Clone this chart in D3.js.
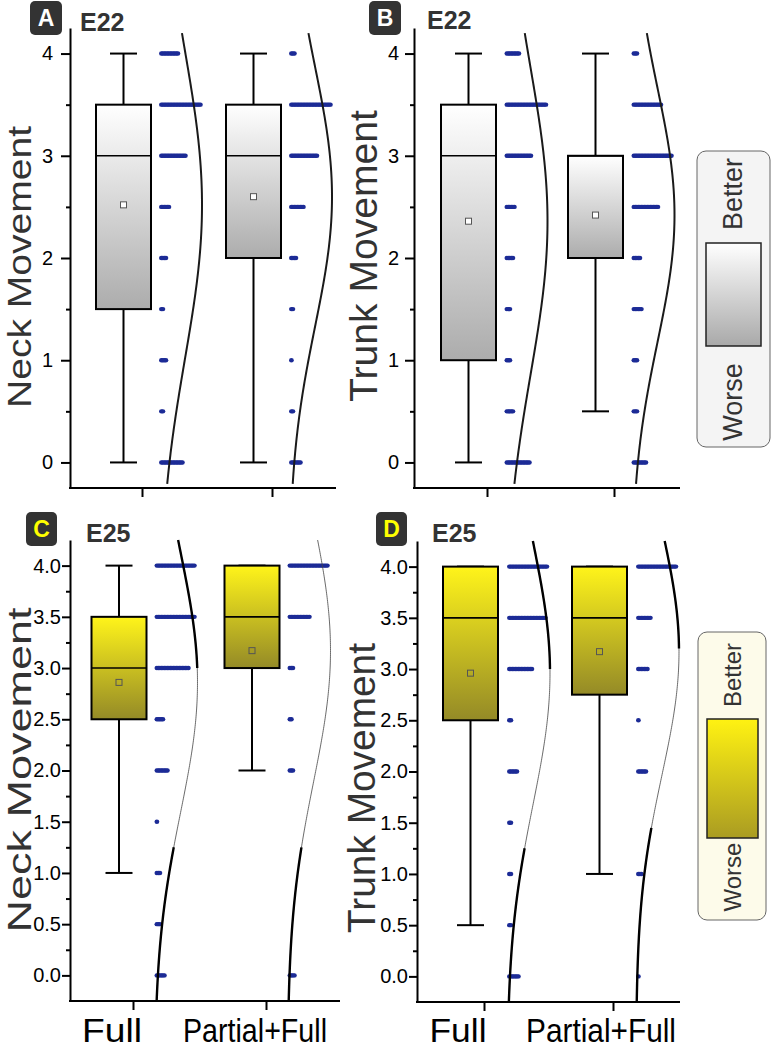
<!DOCTYPE html>
<html>
<head>
<meta charset="utf-8">
<script src="https://cdn.jsdelivr.net/npm/d3@7"></script>
<style>
  body { margin: 0; background: #fff; }
  svg { display: block; font-family: 'Liberation Sans', Arial, sans-serif; }
</style>
</head>
<body>
<script>
// groups on the x axis and the score levels the dots sit on
const groups = ['Full', 'Partial+Full'];
const levels = [0, 0.5, 1, 1.5, 2, 2.5, 3, 3.5, 4];

// box statistics per panel, one entry per group
const statsA = [
  { min: 0, q1: 1.5, med: 3, q3: 3.5, max: 4, mean: 2.52 },
  { min: 0, q1: 2, med: 3, q3: 3.5, max: 4, mean: 2.6 }
];
const statsB = [
  { min: 0, q1: 1, med: 3, q3: 3.5, max: 4, mean: 2.36 },
  { min: 0.5, q1: 2, med: 3, q3: 3, max: 4, mean: 2.42 }
];
const statsC = [
  { min: 1, q1: 2.5, med: 3, q3: 3.5, max: 4, mean: 2.86 },
  { min: 2, q1: 3, med: 3.5, q3: 4, max: 4, mean: 3.17 }
];
const statsD = [
  { min: 0.5, q1: 2.5, med: 3.5, q3: 4, max: 4, mean: 2.96 },
  { min: 1, q1: 2.75, med: 3.5, q3: 4, max: 4, mean: 3.17 }
];

// number of subjects at each level (same order as levels)
const countsA = [[15, 2, 4, 2, 4, 6, 17, 27, 12], [7, 2, 1, 2, 4, 9, 18, 27, 3]];
const countsB = [[16, 5, 3, 3, 5, 6, 17, 27, 9], [9, 3, 3, 6, 5, 17, 26, 19, 3]];
const countsC = [[6, 3, 3, 1, 8, 5, 22, 26, 26], [4, 0, 0, 0, 3, 2, 3, 14, 26]];
const countsD = [[7, 2, 2, 2, 6, 2, 16, 25, 26], [1, 0, 3, 0, 6, 1, 7, 9, 26]];

// normal fit shown beside the dots
const sdA = [1.5, 1.27];
const sdB = [1.5, 1.24];
const sdC = [1.27, 1.28];
const sdD = [1.28, 1.2];

const width = 771;
const height = 1050;
const dotBlue = '#1c2b96';

const svg = d3.select('body')
  .append('svg')
  .attr('width', width)
  .attr('height', height);

const defs = svg.append('defs');
const addGrad = (id, top, bottom) => {
  const g = defs.append('linearGradient')
    .attr('id', id)
    .attr('x1', 0).attr('y1', 0).attr('x2', 0).attr('y2', 1);
  g.append('stop').attr('offset', '0%').attr('stop-color', top);
  g.append('stop').attr('offset', '100%').attr('stop-color', bottom);
};
addGrad('gray', '#ffffff', '#acacac');
addGrad('yellow', '#fff41a', '#948a27');
addGrad('grayLegend', '#ffffff', '#a9a9a9');
addGrad('yellowLegend', '#fff212', '#aa9c22');

// layout of the four panels
const panels = [
  {
    letter: 'A', title: 'E22', yLabel: 'Neck Movement', stats: statsA, counts: countsA, sd: sdA,
    fill: 'gray', letterColor: '#fff',
    x0: 70, x1: 336, y0: 28, y1: 488, t1: 142, t2: 272, boxShift: -18.5, dotShift: 17,
    box: { x: 30, y: 1, w: 32, h: 34 }, titleX: 80, titleY: 31,
    label: { x: 31, cy: 267, size: 34, len: 282 },
    major: [0, 1, 2, 3, 4], minor: [0.5, 1.5, 2.5, 3.5], fmt: d3.format('d'),
    tickLen: 9, tickPad: 8, curveSpan: [-0.21, 4.2], bold: null
  },
  {
    letter: 'B', title: 'E22', yLabel: 'Trunk Movement', stats: statsB, counts: countsB, sd: sdB,
    fill: 'gray', letterColor: '#fff',
    x0: 414, x1: 680, y0: 28, y1: 488, t1: 487, t2: 614, boxShift: -18.5, dotShift: 17.5,
    box: { x: 369, y: 1, w: 32, h: 34 }, titleX: 427, titleY: 29,
    label: { x: 377, cy: 256, size: 39, len: 292 },
    major: [0, 1, 2, 3, 4], minor: [0.5, 1.5, 2.5, 3.5], fmt: d3.format('d'),
    tickLen: 9, tickPad: 6, curveSpan: [-0.21, 4.2], bold: null
  },
  {
    letter: 'C', title: 'E25', yLabel: 'Neck Movement', stats: statsC, counts: countsC, sd: sdC,
    fill: 'yellow', letterColor: '#ffff00',
    x0: 70, x1: 340, y0: 540, y1: 1001, t1: 133, t2: 266, boxShift: -14, dotShift: 21.5,
    box: { x: 26, y: 512, w: 31, h: 34 }, titleX: 86, titleY: 542,
    label: { x: 31, cy: 770, size: 34, len: 325 },
    major: [0, 0.5, 1, 1.5, 2, 2.5, 3, 3.5, 4], minor: [0.25, 0.75, 1.25, 1.75, 2.25, 2.75, 3.25, 3.75],
    fmt: d3.format('.1f'), tickLen: 8, tickPad: 1, curveSpan: [-0.25, 4.25],
    bold: [[[3, 4.25], [-0.25, 1.25]], [[-0.25, 1.25]]],
    xLabels: [{ shift: -21, len: 60 }, { shift: -11, len: 144 }]
  },
  {
    letter: 'D', title: 'E25', yLabel: 'Trunk Movement', stats: statsD, counts: countsD, sd: sdD,
    fill: 'yellow', letterColor: '#ffff00',
    x0: 417, x1: 680, y0: 541, y1: 1002, t1: 484, t2: 613, boxShift: -13.5, dotShift: 23,
    box: { x: 376, y: 512, w: 31, h: 34 }, titleX: 432, titleY: 542,
    label: { x: 375, cy: 788, size: 39, len: 290 },
    major: [0, 0.5, 1, 1.5, 2, 2.5, 3, 3.5, 4], minor: [0.25, 0.75, 1.25, 1.75, 2.25, 2.75, 3.25, 3.75],
    fmt: d3.format('.1f'), tickLen: 8, tickPad: 1, curveSpan: [-0.25, 4.25],
    bold: [[[3, 4.25], [-0.25, 1.25]], [[3.2, 4.25], [-0.25, 1.45]]],
    xLabels: [{ shift: -26, len: 57 }, { shift: -12, len: 150 }]
  }
];

const boxW = 55;
const capW = 27;
const peak = 43;

panels.forEach(p => {
  const g = svg.append('g');

  const y = d3.scaleLinear().domain([-0.25, 4.25]).range([p.y1, p.y0]);
  const x = d3.scalePoint().domain(groups).range([p.t1, p.t2]);

  // y axis, major then minor ticks
  const yAxis = g.append('g')
    .attr('transform', `translate(${p.x0},0)`)
    .call(d3.axisLeft(y).tickValues(p.major).tickFormat(p.fmt)
      .tickSize(p.tickLen).tickSizeOuter(0).tickPadding(p.tickPad));
  yAxis.select('.domain').attr('stroke-width', 2);
  yAxis.selectAll('.tick line').attr('stroke-width', 2);
  yAxis.selectAll('.tick text')
    .attr('font-size', 20)
    .attr('font-family', "'Liberation Sans', Arial, sans-serif")
    .attr('fill', '#000');

  const yMinor = g.append('g')
    .attr('transform', `translate(${p.x0},0)`)
    .call(d3.axisLeft(y).tickValues(p.minor).tickFormat('').tickSize(4).tickSizeOuter(0));
  yMinor.select('.domain').remove();
  yMinor.selectAll('.tick line').attr('stroke-width', 2);

  // x axis line and ticks
  g.append('line')
    .attr('x1', p.x0 - 1).attr('x2', p.x1)
    .attr('y1', p.y1).attr('y2', p.y1)
    .attr('stroke', '#000').attr('stroke-width', 2);
  const xAxis = g.append('g')
    .attr('transform', `translate(0,${p.y1})`)
    .call(d3.axisBottom(x).tickFormat('').tickSize(9).tickSizeOuter(0));
  xAxis.select('.domain').remove();
  xAxis.selectAll('.tick line').attr('stroke-width', 2);

  if (p.xLabels) {
    g.selectAll('.xlab')
      .data(groups)
      .join('text')
      .attr('class', 'xlab')
      .attr('x', (d, i) => x(d) + p.xLabels[i].shift)
      .attr('y', 1042)
      .attr('text-anchor', 'middle')
      .attr('font-size', 33)
      .attr('textLength', (d, i) => p.xLabels[i].len)
      .attr('lengthAdjust', 'spacingAndGlyphs')
      .attr('fill', '#000')
      .text(d => d);
  }

  // y axis title
  g.append('text')
    .attr('transform', `translate(${p.label.x},${p.label.cy}) rotate(-90)`)
    .attr('text-anchor', 'middle')
    .attr('font-size', p.label.size)
    .attr('textLength', p.label.len)
    .attr('lengthAdjust', 'spacingAndGlyphs')
    .attr('fill', '#333')
    .text(p.yLabel);

  // panel letter and title
  g.append('rect')
    .attr('x', p.box.x).attr('y', p.box.y)
    .attr('width', p.box.w).attr('height', p.box.h)
    .attr('rx', 5)
    .attr('fill', '#333');
  g.append('text')
    .attr('x', p.box.x + p.box.w / 2)
    .attr('y', p.box.y + p.box.h / 2 + 8)
    .attr('text-anchor', 'middle')
    .attr('font-size', 23)
    .attr('font-weight', 'bold')
    .attr('fill', p.letterColor)
    .text(p.letter);
  g.append('text')
    .attr('x', p.titleX).attr('y', p.titleY)
    .attr('font-size', 25)
    .attr('font-weight', 'bold')
    .attr('fill', '#333')
    .text(p.title);

  groups.forEach((grp, i) => {
    const s = p.stats[i];
    const cx = x(grp) + p.boxShift;
    const dx = x(grp) + p.dotShift;

    // whiskers
    [[s.max, s.q3], [s.q1, s.min]].forEach(([a, b]) => {
      if (a === b) return;
      g.append('line')
        .attr('x1', cx).attr('x2', cx)
        .attr('y1', y(a)).attr('y2', y(b))
        .attr('stroke', '#000').attr('stroke-width', 2);
    });
    [s.max, s.min].forEach(v => {
      g.append('line')
        .attr('x1', cx - capW / 2).attr('x2', cx + capW / 2)
        .attr('y1', y(v)).attr('y2', y(v))
        .attr('stroke', '#000').attr('stroke-width', 2);
    });

    // box
    g.append('rect')
      .attr('x', cx - boxW / 2)
      .attr('y', y(s.q3))
      .attr('width', boxW)
      .attr('height', y(s.q1) - y(s.q3))
      .attr('fill', `url(#${p.fill})`)
      .attr('stroke', '#000')
      .attr('stroke-width', 2);
    g.append('line')
      .attr('x1', cx - boxW / 2).attr('x2', cx + boxW / 2)
      .attr('y1', y(s.med)).attr('y2', y(s.med))
      .attr('stroke', '#000').attr('stroke-width', 1.6);
    g.append('rect')
      .attr('x', cx - 3).attr('y', y(s.mean) - 3)
      .attr('width', 6).attr('height', 6)
      .attr('fill', p.fill === 'gray' ? '#fff' : 'none')
      .attr('stroke', '#555')
      .attr('stroke-width', 1);

    // data dots, one row per level
    const dots = [];
    p.counts[i].forEach((n, j) => {
      for (let k = 0; k < n; k++) dots.push({ v: levels[j], k });
    });
    g.append('g')
      .selectAll('ellipse')
      .data(dots)
      .join('ellipse')
      .attr('cx', d => dx + 2.4 + d.k * 1.5)
      .attr('cy', d => y(d.v))
      .attr('rx', 2.4)
      .attr('ry', 2.2)
      .attr('fill', dotBlue);

    // normal curve
    const curveX = v => dx + peak * Math.exp(-Math.pow(v - s.mean, 2) / (2 * p.sd[i] * p.sd[i]));
    const line = d3.line().x(curveX).y(v => y(v));
    const sample = span => d3.range(span[0], span[1], 0.02).concat([span[1]]);
    g.append('path')
      .attr('d', line(sample(p.curveSpan)))
      .attr('fill', 'none')
      .attr('stroke', p.bold ? '#444' : '#1a1a1a')
      .attr('stroke-width', p.bold ? 0.8 : 2);
    if (p.bold) {
      p.bold[i].forEach(span => {
        g.append('path')
          .attr('d', line(sample(span)))
          .attr('fill', 'none')
          .attr('stroke', '#000')
          .attr('stroke-width', 2.4);
      });
    }
  });
});

// Better / Worse legends
const legends = [
  { x: 697, y: 151, w: 73, h: 296, bg: '#f4f4f4', grad: 'grayLegend', ix: 706, iy: 243, iw: 55, ih: 103,
    size: 27, textX: 742, better: 194, worse: 402 },
  { x: 698, y: 632, w: 68, h: 288, bg: '#fdfbea', grad: 'yellowLegend', ix: 707, iy: 719, iw: 51, ih: 119,
    size: 24, textX: 741, better: 675, worse: 877 }
];

legends.forEach(l => {
  const g = svg.append('g');
  g.append('rect')
    .attr('x', l.x).attr('y', l.y)
    .attr('width', l.w).attr('height', l.h)
    .attr('rx', 9)
    .attr('fill', l.bg)
    .attr('stroke', '#666')
    .attr('stroke-width', 1);
  g.append('rect')
    .attr('x', l.ix).attr('y', l.iy)
    .attr('width', l.iw).attr('height', l.ih)
    .attr('fill', `url(#${l.grad})`)
    .attr('stroke', '#222')
    .attr('stroke-width', 1.5);
  [['Better', l.better], ['Worse', l.worse]].forEach(([t, cy]) => {
    g.append('text')
      .attr('transform', `translate(${l.textX},${cy}) rotate(-90)`)
      .attr('text-anchor', 'middle')
      .attr('font-size', l.size)
      .attr('fill', '#333')
      .text(t);
  });
});
</script>
</body>
</html>
